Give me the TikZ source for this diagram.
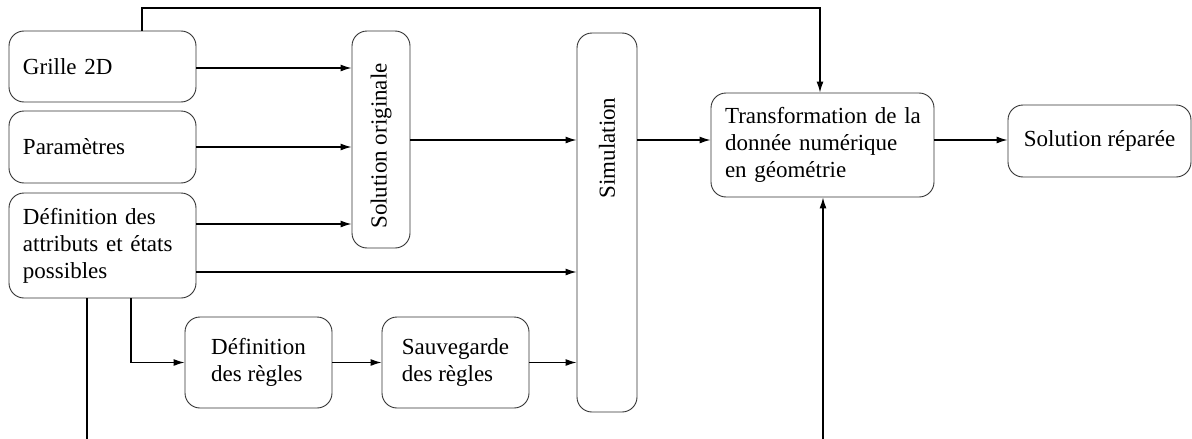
\documentclass[tikz,border=0pt]{standalone}
\usepackage{fontspec}
\setmainfont{Liberation Serif}
\usetikzlibrary{arrows.meta,calc}
\begin{document}
\begin{tikzpicture}[x=1pt,y=-1pt,
  box/.style={draw=black!80, line width=0.9pt, rounded corners=15pt, inner sep=0pt, fill=white},
  txt/.style={font=\fontsize{23}{27}\selectfont},
  arr/.style={line width=1.3pt, -{Latex[length=11pt,width=7pt]}}]
\useasboundingbox (0,0) rectangle (1192,439);
% boxes
\node[box, txt, minimum width=187pt, minimum height=71pt, text width=159pt, align=left] (grille) at (102.5,66.5) {Grille 2D};
\node[box, txt, minimum width=187pt, minimum height=72pt, text width=159pt, align=left] (param) at (102.5,147) {Paramètres};
\node[box, txt, minimum width=187pt, minimum height=105pt, text width=159pt, align=left] (defattr) at (102.5,245.5) {\mbox{Définition des}\\\mbox{attributs et états}\\possibles};
\node[box, minimum width=58pt, minimum height=217pt] (solorig) at (381,139.5) {};
\node[txt, rotate=90] (solorigt) at (381,146) {Solution originale};
\node[box, minimum width=60pt, minimum height=379pt] (simu) at (607,222.5) {};
\node[txt, rotate=90] (simut) at (607,148) {Simulation};
\node[box, txt, minimum width=223pt, minimum height=104pt, text width=195pt, align=left] (trans) at (822.5,145) {\mbox{Transformation de la}\\\mbox{donnée numérique}\\\mbox{en géométrie}};
\node[box, txt, minimum width=183pt, minimum height=72pt] (solrep) at (1099.5,141) {Solution réparée};
\node[box, txt, minimum width=147pt, minimum height=91pt, align=left] (defregles) at (258.5,362.5) {Définition\\des règles};
\node[box, txt, minimum width=147pt, minimum height=91pt, align=left] (sauv) at (455.5,362.5) {Sauvegarde\\des règles};
% helper coordinates
\coordinate (r68) at (0,68);
\coordinate (r147) at (0,147);
\coordinate (r224) at (0,224);
\coordinate (r272) at (0,272);
\coordinate (r140) at (0,140);
\coordinate (rtop) at (0,8);
\coordinate (rbot) at (0,439.2);
\coordinate (xa) at (142,0);
\coordinate (xb) at (820,0);
\coordinate (xc) at (87,0);
\coordinate (xd) at (823,0);
\coordinate (xe) at (131,0);
% connectors
\draw[arr] (grille.east |- r68) -- (solorig.west |- r68);
\draw[arr] (param.east |- r147) -- (solorig.west |- r147);
\draw[arr] (defattr.east |- r224) -- (solorig.west |- r224);
\draw[arr] (defattr.east |- r272) -- (simu.west |- r272);
\draw[arr] (solorig.east |- r140) -- (simu.west |- r140);
\draw[arr] (simu.east |- r140) -- (trans.west |- r140);
\draw[arr] (trans.east |- r140) -- (solrep.west |- r140);
\draw[arr] (defattr.south -| xe) |- (defregles.west);
\draw[arr] (defregles.east) -- (sauv.west);
\draw[arr] (sauv.east) -- (sauv.east -| simu.west);
\draw[arr] (grille.north -| xa) |- (rtop -| xb) -- (trans.north -| xb);
\draw[arr] (defattr.south -| xc) |- (rbot -| xd) -- (trans.south -| xd);
\end{tikzpicture}
\end{document}
